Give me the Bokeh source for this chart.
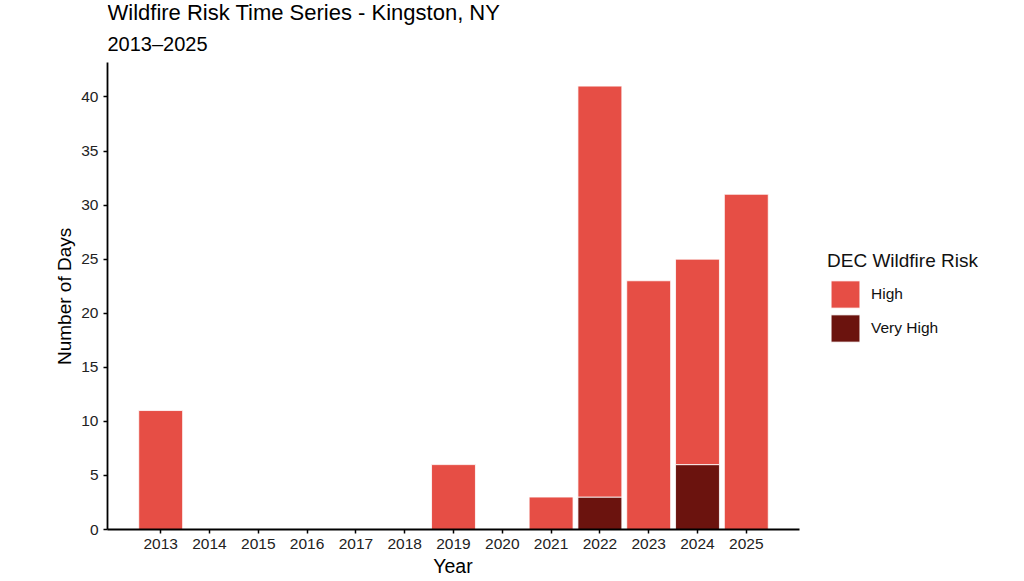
from bokeh.plotting import figure
from bokeh.models import (ColumnDataSource, Range1d, FixedTicker, Legend, LegendItem,
                          Title, Label)
from bokeh.embed import file_html
from bokeh.resources import INLINE

years = [2013, 2014, 2015, 2016, 2017, 2018, 2019, 2020, 2021, 2022, 2023, 2024, 2025]
high = [11, 0, 0, 0, 0, 0, 6, 0, 3, 38, 23, 19, 31]
very_high = [0, 0, 0, 0, 0, 0, 0, 0, 0, 3, 0, 6, 0]
y_ticks = [0, 5, 10, 15, 20, 25, 30, 35, 40]

FONT = "Liberation Sans"
C_HIGH = "#E64E45"
C_VHIGH = "#6B130E"

src = ColumnDataSource(dict(year=years, high=high, very_high=very_high))

# layout (pixels in the figure)
W, H = 1008, 578
LEFT, RIGHT = 107, 6
FRAME_H = 528          # frame spans 0..528 (bottom panel takes the rest)
AXIS_TOP = 62          # pixel row where the y axis line ends
PX_PER_YEAR = 48.8
x_lo = years[0] - 1.09
x_hi = years[-1] + 1.1
x_end = x_lo + (W - LEFT - RIGHT) / PX_PER_YEAR
ymax = max(h + v for h, v in zip(high, very_high)) * 1.053
y_end = ymax * FRAME_H / (FRAME_H - AXIS_TOP)

p = figure(width=W, height=H, output_backend="svg", toolbar_location=None,
           x_range=Range1d(x_lo, x_end),
           y_range=Range1d(0, y_end),
           min_border_left=LEFT, min_border_right=RIGHT, min_border_top=0,
           min_border_bottom=20,
           background_fill_color="white", border_fill_color="white")
p.outline_line_color = None
p.grid.visible = False

rs = p.vbar_stack(["very_high", "high"], x="year", width=0.9, source=src,
                  color=[C_VHIGH, C_HIGH], line_color="white", line_width=0.8)

legend = Legend(items=[LegendItem(label="High", renderers=[rs[1]]),
                       LegendItem(label="Very High", renderers=[rs[0]])],
                title="DEC Wildfire Risk", location=(720, 184))
legend.title_text_font = FONT
legend.title_text_font_size = "19px"
legend.title_text_font_style = "normal"
legend.title_text_color = "#111111"
legend.title_standoff = 5
legend.label_text_font = FONT
legend.label_text_font_size = "15.5px"
legend.label_text_color = "#111111"
legend.glyph_width = 36
legend.glyph_height = 34
legend.label_height = 34
legend.spacing = 0
legend.label_standoff = 8
legend.border_line_color = None
legend.background_fill_alpha = 0
legend.margin = 0
legend.padding = 0
p.add_layout(legend)

for ax in (p.xaxis, p.yaxis):
    ax.axis_line_color = "black"
    ax.axis_line_width = 1.8
    ax.major_tick_line_color = "black"
    ax.major_tick_line_width = 1.5
    ax.major_tick_out = 4
    ax.major_tick_in = 0
    ax.minor_tick_line_color = None
    ax.major_label_text_font = FONT
    ax.major_label_text_font_size = "15.5px"
    ax.major_label_text_color = "#222222"

p.xaxis.ticker = FixedTicker(ticks=years)
p.xaxis.bounds = (x_lo, x_hi)
p.xaxis.major_label_standoff = 5
p.yaxis.ticker = FixedTicker(ticks=y_ticks)
p.yaxis.bounds = (0, ymax)
p.yaxis.major_label_standoff = 5

# axis titles, centred on the axis lines (not on the whole frame)
x_title = Title(text="Year", text_font=FONT, text_font_size="19.5px",
                text_font_style="normal", text_color="black", align="left",
                standoff=3)
x_title.offset = ((x_hi - x_lo) / 2) * PX_PER_YEAR - 20.5
p.add_layout(x_title, "below")

y_title = Title(text="Number of Days", text_font=FONT, text_font_size="19px",
                text_font_style="normal", text_color="black", align="left",
                standoff=7)
y_title.offset = (FRAME_H - AXIS_TOP) / 2 - 68.5
p.add_layout(y_title, "left")

# plot title and subtitle (screen units, relative to the frame's bottom-left)
p.add_layout(Label(x=0, y=FRAME_H - 11, x_units="screen", y_units="screen",
                   text="Wildfire Risk Time Series - Kingston, NY", text_font=FONT,
                   text_font_size="22px", text_color="black",
                   text_baseline="alphabetic", text_align="left"))
p.add_layout(Label(x=0, y=FRAME_H - 42, x_units="screen", y_units="screen",
                   text="2013–2025", text_font=FONT, text_font_size="20px",
                   text_color="black", text_baseline="alphabetic", text_align="left"))

open("out.html", "w").write(file_html(p, INLINE))
